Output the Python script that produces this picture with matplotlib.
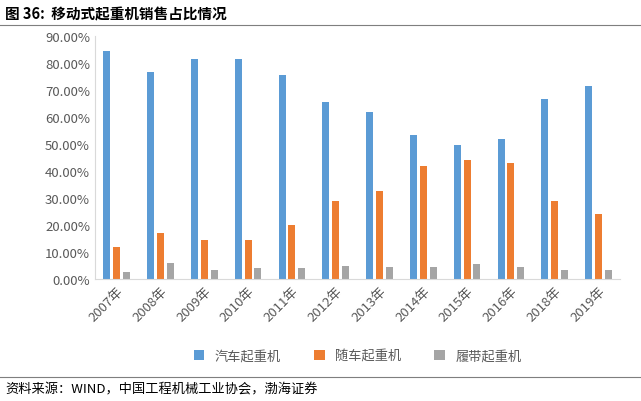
import matplotlib
matplotlib.use("Agg")
import matplotlib.pyplot as plt
import numpy as np
from matplotlib.ticker import FuncFormatter

plt.rcParams['font.family'] = ['Noto Sans CJK SC', 'DejaVu Sans']

years = ["2007年","2008年","2009年","2010年","2011年","2012年","2013年","2014年","2015年","2016年","2018年","2019年"]
truck = [84.5,76.5,81.5,81.5,75.5,65.5,62.0,53.5,49.5,52.0,66.5,71.5]
loader = [12.0,17.0,14.5,14.5,20.0,29.0,32.5,42.0,44.0,43.0,29.0,24.0]
crawler = [2.5,6.0,3.5,4.0,4.0,5.0,4.5,4.5,5.5,4.5,3.5,3.5]
names = ["汽车起重机","随车起重机","履带起重机"]
colors = ["#5B9BD5","#ED7D31","#A5A5A5"]

fig = plt.figure(figsize=(6.41,4.02), dpi=100)
ax = fig.add_axes([0.148, 0.303, 0.82, 0.605])
x = np.arange(len(years))
w = 0.16
for i,(vals,c,n) in enumerate(zip([truck,loader,crawler],colors,names)):
    ax.bar(x+(i-1)*w*1.4, vals, w, color=c, label=n)
ax.set_ylim(0,90)
ax.set_yticks(np.arange(0,91,10))
ax.yaxis.set_major_formatter(FuncFormatter(lambda v,p: f"{v:.2f}%"))
ax.set_xlim(-0.5, len(years)-0.5)
ax.set_xticks(x)
ax.set_xticklabels(years, rotation=45, ha='right', rotation_mode='anchor', fontsize=9.5, color='#595959')
ax.tick_params(axis='y', labelsize=9.5, colors='#595959', length=0)
ax.tick_params(axis='x', length=0)
for s in ['top','right']:
    ax.spines[s].set_visible(False)
ax.spines['left'].set_color('#d9d9d9')
ax.spines['bottom'].set_color('#d9d9d9')
ax.legend(loc='lower center', bbox_to_anchor=(0.5,-0.39), ncol=3, frameon=False, fontsize=9.5, handlelength=0.8, handleheight=0.8, columnspacing=2.5, labelcolor='#595959')

fig.text(0.008, 0.965, "图 36:  移动式起重机销售占比情况", fontsize=10.5, fontweight='bold', va='center')
fig.add_artist(plt.Line2D([0,1],[0.935,0.935], color='#7f7f7f', lw=0.8))
fig.add_artist(plt.Line2D([0,1],[0.06,0.06], color='#7f7f7f', lw=0.8))
fig.text(0.008, 0.03, "资料来源：WIND，中国工程机械工业协会，渤海证券", fontsize=9.5, style='italic', va='center')
fig.savefig("out.png", dpi=100)
